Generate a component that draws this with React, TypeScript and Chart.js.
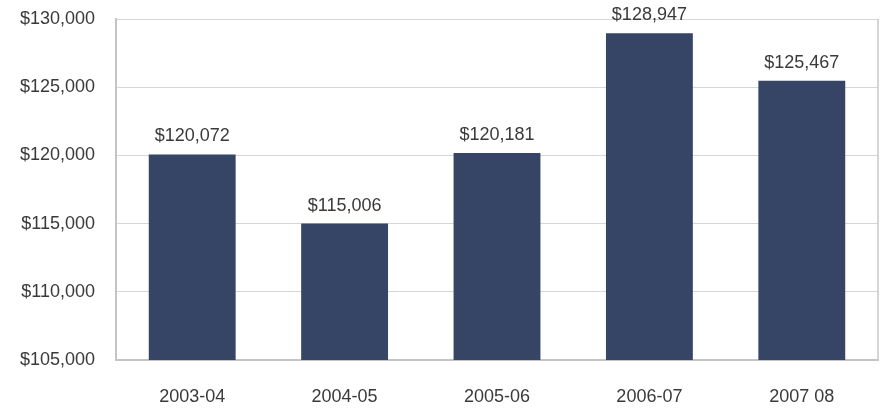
import React, { useEffect, useRef } from "react";
import { Chart, registerables } from "chart.js";

Chart.register(...registerables);

const categories = ["2003-04", "2004-05", "2005-06", "2006-07", "2007 08"];
const values = [120072, 115006, 120181, 128947, 125467];
const yMin = 105000;
const yMax = 130000;
const yStep = 5000;

const FONT = "'Liberation Sans', Arial, sans-serif";
const TEXT = "#3a3a3a";

const fmt = (v: number) => "$" + v.toLocaleString("en-US");

export default function App() {
  const ref = useRef<HTMLCanvasElement | null>(null);
  useEffect(() => {
    document.body.style.margin = "0";
    const canvas = ref.current!;
    const labelsPlugin = {
      id: "valLabels",
      afterDatasetsDraw(chart: any) {
        const ctx = chart.ctx;
        const meta = chart.getDatasetMeta(0);
        ctx.save();
        ctx.font = `18px ${FONT}`;
        ctx.fillStyle = TEXT;
        ctx.textAlign = "center";
        ctx.textBaseline = "alphabetic";
        meta.data.forEach((el: any, i: number) => {
          ctx.fillText(fmt(values[i]), el.x, el.y - 13);
        });
        ctx.restore();
      },
      beforeDatasetsDraw(chart: any) {
        const { ctx, chartArea } = chart;
        ctx.save();
        ctx.strokeStyle = "#c8c8c8";
        ctx.lineWidth = 1.5;
        ctx.beginPath();
        ctx.moveTo(chartArea.right, chartArea.top);
        ctx.lineTo(chartArea.right, chartArea.bottom);
        ctx.stroke();
        ctx.restore();
      },
    };
    const chart = new Chart(canvas, {
      type: "bar",
      data: {
        labels: categories,
        datasets: [
          {
            data: values,
            backgroundColor: "#364465",
            barPercentage: 0.57,
            categoryPercentage: 1,
          },
        ],
      },
      options: {
        responsive: false,
        animation: false,
        layout: { padding: { top: 19, right: 8, left: 0, bottom: 0 } },
        plugins: { legend: { display: false }, tooltip: { enabled: false } },
        scales: {
          x: {
            grid: { display: false },
            border: { display: true, color: "#c4c4c4", width: 2 },
            ticks: {
              color: TEXT,
              font: { family: FONT, size: 18 },
              padding: 18,
            },
            afterFit(scale: any) {
              scale.height = 48;
              scale.paddingLeft = 0;
              scale.paddingRight = 0;
            },
          },
          y: {
            min: yMin,
            max: yMax,
            grid: { color: "#d6d6d6", lineWidth: 1, drawTicks: false },
            border: { display: true, color: "#c4c4c4", width: 2 },
            ticks: {
              stepSize: yStep,
              color: TEXT,
              font: { family: FONT, size: 18 },
              padding: 21,
              callback: (v: any) => fmt(Number(v)),
            },
            afterFit(scale: any) {
              scale.width = 116;
              scale.paddingTop = 0;
              scale.paddingBottom = 0;
            },
          },
        },
      },
      plugins: [labelsPlugin],
    });
    return () => chart.destroy();
  }, []);
  return (
    <div style={{ width: 886, height: 408, background: "#fff" }}>
      <canvas ref={ref} width={886} height={408} />
    </div>
  );
}
